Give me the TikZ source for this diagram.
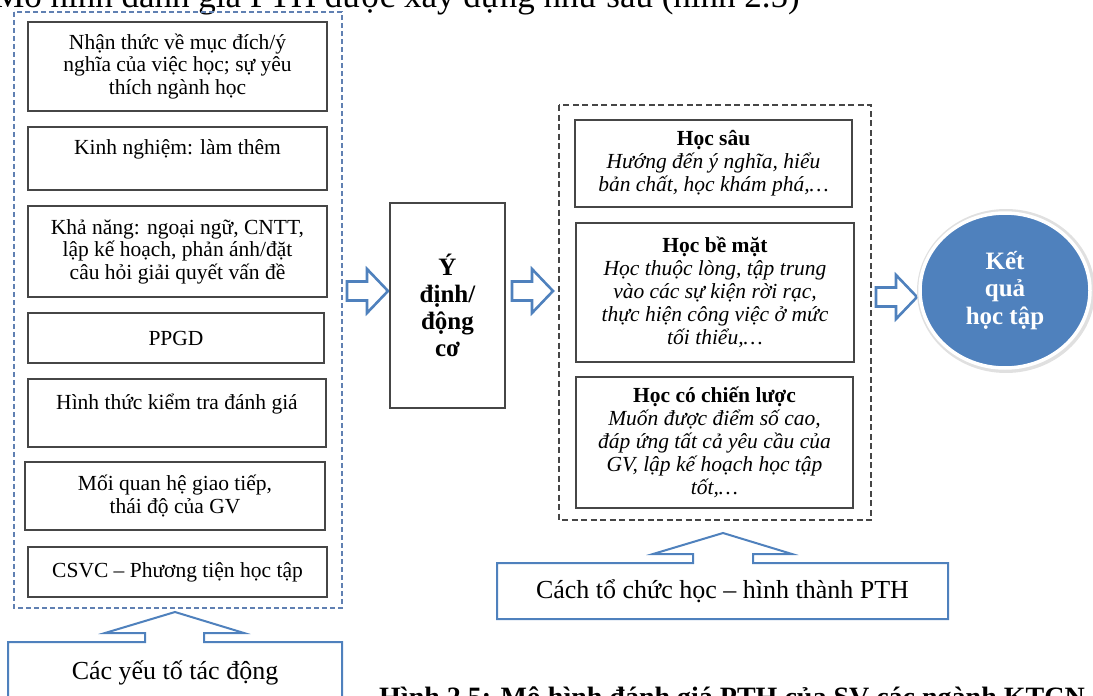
\documentclass[tikz,border=0pt]{standalone}
\usepackage{fontspec}
\setmainfont{Liberation Serif}
\usetikzlibrary{shapes.geometric}

\definecolor{officeblue}{RGB}{79,129,189}
\definecolor{dashblue}{RGB}{96,128,178}
\definecolor{boxgray}{RGB}{70,70,70}

\tikzset{
  fact/.style={draw=boxgray,line width=1.3pt,minimum width=299pt,align=center,inner sep=0pt,
    font=\fontsize{21.5}{22.5}\selectfont},
  learn/.style={draw=boxgray,line width=1.3pt,minimum width=277pt,align=center,inner sep=0pt,
    font=\fontsize{21.5}{23}\selectfont},
  fatarrow/.style={draw=officeblue,fill=white,line width=2.6pt},
  callout/.style={draw=officeblue,line width=2pt,fill=white},
  calltext/.style={font=\fontsize{26}{30}\selectfont,inner sep=0pt},
}

\begin{document}
\begin{tikzpicture}[x=1pt,y=-1pt,line join=miter]
\useasboundingbox (0,0) rectangle (1093,696);
\clip (0,0) rectangle (1093,696);

\node[anchor=base east,inner sep=0pt,font=\fontsize{35}{40}\selectfont] (dandat) at (800,8)
  {Mô hình đánh giá PTH được xây dựng như sau (hình 2.5)};

% cac yeu to tac dong
\draw[dashblue,line width=1.5pt,dash pattern=on 5pt off 3pt] (14,12) rectangle (342,608);
\node[fact,minimum height=89pt] (nhanthuc) at (177.5,66.5)
  {Nhận thức về mục đích/ý\\nghĩa của việc học; sự yêu\\thích ngành học};
\node[fact,minimum height=63pt] (kinhnghiem) at (177.5,158.5)
  {Kinh nghiệm: làm thêm\\\mbox{}};
\node[fact,minimum height=91pt] (khanang) at (177.5,251.5)
  {Khả năng: ngoại ngữ, CNTT,\\lập kế hoạch, phản ánh/đặt\\câu hỏi giải quyết vấn đề};
\node[fact,minimum width=296pt,minimum height=50pt] (ppgd) at (176,338) {PPGD};
\node[fact,minimum width=298pt,minimum height=68pt] (kiemtra) at (177,413)
  {Hình thức kiểm tra đánh giá\\\mbox{}};
\node[fact,minimum width=300pt,minimum height=68pt] (giaotiep) at (175,496)
  {Mối quan hệ giao tiếp,\\thái độ của GV};
\node[fact,minimum height=50pt] (csvc) at (177.5,572) {CSVC – Phương tiện học tập};

\draw[callout] (8,642) -- (145,642) -- (145,633) -- (105,633) -- (175,612) -- (244,633)
  -- (204,633) -- (204,642) -- (342,642) -- (342,710) -- (8,710) -- cycle;
\node[calltext] (yeuto) at (175,673) {Các yếu tố tác động};

% mui ten khoi
\foreach \x/\y in {347/291,512/291,876/297}
  \draw[fatarrow] (\x,\y) ++(0,-9.5) -- ++(20,0) -- ++(0,-12.5) -- ++(21,22) -- ++(-21,22)
    -- ++(0,-12.5) -- ++(-20,0) -- cycle;

% y dinh / dong co
\node[draw=boxgray,line width=1.3pt,minimum width=115pt,minimum height=205pt,align=center,
  font=\fontsize{25}{27}\selectfont\bfseries] (ydinh) at (447.5,305.5) {Ý\\định/\\động\\cơ};

% phong cach hoc
\draw[boxgray,line width=1.5pt,dash pattern=on 6pt off 3.5pt] (559,105) rectangle (871,520);
\node[learn,minimum height=87pt] (hocsau) at (713.5,163.5)
  {\textbf{Học sâu}\\\itshape Hướng đến ý nghĩa, hiểu\\\itshape bản chất, học khám phá,…};
\node[learn,minimum width=278pt,minimum height=139pt] (hocbemat) at (715,292.5)
  {\textbf{Học bề mặt}\\\itshape Học thuộc lòng, tập trung\\\itshape vào các sự kiện rời rạc,\\
   \itshape thực hiện công việc ở mức\\\itshape tối thiểu,…};
\node[learn,minimum height=131pt] (chienluoc) at (714.5,442.5)
  {\textbf{Học có chiến lược}\\\itshape Muốn được điểm số cao,\\\itshape đáp ứng tất cả yêu cầu của\\
   \itshape GV, lập kế hoạch học tập\\\itshape tốt,…};

\draw[callout] (497,563) -- (693,563) -- (693,554) -- (653,554) -- (723,533) -- (792,554)
  -- (753,554) -- (753,563) -- (948,563) -- (948,619) -- (497,619) -- cycle;
\node[calltext] (cachhoc) at (722.5,591) {Cách tổ chức học – hình thành PTH};

% ket qua
\fill[black!12] (1006,291) ellipse [x radius=89, y radius=82];
\node[ellipse,fill=officeblue,draw=white,line width=3.5pt,minimum width=170pt,minimum height=155pt,
  align=center,text=white,font=\fontsize{25}{27.5}\selectfont\bfseries] (ketqua) at (1005,290.5)
  {Kết\\quả\\học tập};

\node[anchor=base west,inner sep=0pt,font=\fontsize{28}{32}\selectfont\bfseries] (hinh) at (379,706)
  {Hình 2.5: Mô hình đánh giá PTH của SV các ngành KTCN};
\end{tikzpicture}
\end{document}
